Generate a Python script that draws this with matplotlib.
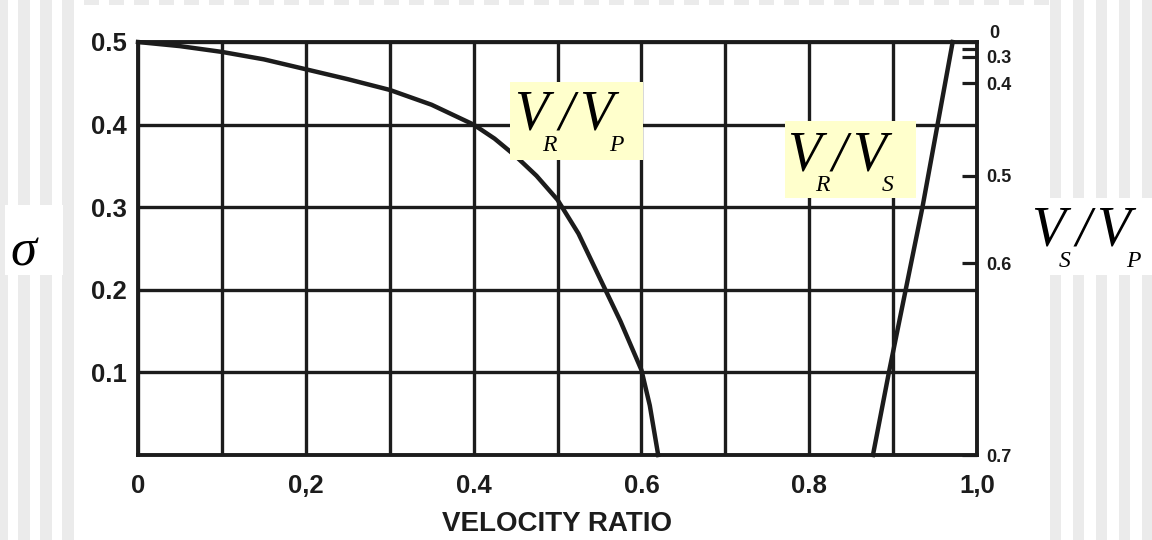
import numpy as np
import matplotlib
matplotlib.use('Agg')
import matplotlib.pyplot as plt
from matplotlib.patches import Rectangle

# Data (x = velocity ratio, y = Poisson's ratio sigma)
vr_vp_x = [0.0, 0.05, 0.1, 0.15, 0.2, 0.25, 0.3, 0.35, 0.4, 0.425, 0.45, 0.475,
           0.5, 0.525, 0.55, 0.575, 0.6, 0.61, 0.62]
vr_vp_sigma = [0.5, 0.495, 0.488, 0.479, 0.467, 0.455, 0.442, 0.424, 0.40, 0.383,
               0.362, 0.338, 0.309, 0.268, 0.215, 0.162, 0.103, 0.06, 0.0]

vr_vs_x = [0.876, 0.895, 0.915, 0.935, 0.953, 0.971]
vr_vs_sigma = [0.0, 0.1, 0.2, 0.3, 0.4, 0.5]

x_ticks = [0.0, 0.2, 0.4, 0.6, 0.8, 1.0]
x_tick_labels = ['0', '0,2', '0.4', '0.6', '0.8', '1,0']
y_ticks = [0.1, 0.2, 0.3, 0.4, 0.5]
y_tick_labels = ['0.1', '0.2', '0.3', '0.4', '0.5']

# right-hand Vs/Vp scale, placed against sigma
vs_vp_sigma = [0.482, 0.450, 0.338, 0.232, 0.0]
vs_vp_labels = ['0.3', '0.4', '0.5', '0.6', '0.7']

W, H = 1152, 540
ink = '#1c1c1c'
stripe = '#ebebeb'
note_yellow = '#ffffcc'

fig = plt.figure(figsize=(W / 100, H / 100), dpi=100, facecolor='white')


def px_rect(x0, y0, x1, y1, color, z=0):
    # rectangle given in pixel coords measured from the top-left corner
    fig.add_artist(Rectangle((x0 / W, 1 - y1 / H), (x1 - x0) / W, (y1 - y0) / H,
                             transform=fig.transFigure, facecolor=color,
                             edgecolor='none', zorder=z))


# slide background: pale vertical stripes at both sides, dashes along the top
for x in range(-4, 71, 22):
    px_rect(max(x, 0), 0, x + 12, H, stripe, z=-5)
for x in range(1050, W, 23):
    px_rect(x, 0, x + 11, H, stripe, z=-5)
for x in range(84, 1047, 25):
    px_rect(x, 0, x + 15, 5, stripe, z=-5)

ax = fig.add_axes([138 / W, 1 - 455 / H, (977 - 138) / W, (455 - 42) / H])
ax.set_xlim(0, 1)
ax.set_ylim(0, 0.5)

ax.set_xticks(x_ticks)
ax.set_xticklabels(x_tick_labels)
ax.set_xticks(np.arange(0.1, 1.0, 0.2), minor=True)
ax.set_yticks(y_ticks)
ax.set_yticklabels(y_tick_labels)
ax.grid(True, which='both', color=ink, linewidth=2.4)
ax.set_axisbelow(True)
ax.tick_params(which='both', length=0)
ax.tick_params(axis='x', pad=14)
ax.tick_params(axis='y', pad=8)
for lab in ax.get_xticklabels() + ax.get_yticklabels():
    lab.set_fontfamily('Liberation Sans')
    lab.set_fontweight('bold')
    lab.set_fontsize(18.5)
    lab.set_color(ink)
for sp in ax.spines.values():
    sp.set_linewidth(2.8)
    sp.set_color(ink)

ax.plot(vr_vp_x, vr_vp_sigma, color=ink, linewidth=3.2, clip_on=False, zorder=3,
        solid_joinstyle='round')
ax.plot(vr_vs_x, vr_vs_sigma, color=ink, linewidth=3.2, clip_on=False, zorder=3)

ax.set_xlabel('VELOCITY RATIO', fontfamily='Liberation Sans', fontweight='bold',
              fontsize=20, color=ink, labelpad=9)

# Vs/Vp scale on the right spine
ax2 = ax.twinx()
ax2.set_ylim(0, 0.5)
ax2.set_yticks(vs_vp_sigma)
ax2.set_yticklabels(vs_vp_labels)
ax2.set_yticks([0.492], minor=True)
ax2.tick_params(axis='y', which='both', direction='in', length=11, width=2.3,
                color=ink, pad=7)
for lab in ax2.get_yticklabels():
    lab.set_fontfamily('Liberation Sans')
    lab.set_fontweight('bold')
    lab.set_fontsize(13)
    lab.set_color(ink)
for sp in ax2.spines.values():
    sp.set_visible(False)
ax2.annotate('0', xy=(1.0, 0.5), xycoords=('axes fraction', 'data'),
             xytext=(9, 0), textcoords='offset points', va='bottom', ha='left',
             fontfamily='Liberation Sans', fontweight='bold', fontsize=13, color=ink)


def ratio_label(x0, base, sub1, sub2):
    # big italic V, small dropped subscript, slash, V, subscript
    big = dict(fontfamily='Liberation Serif', style='italic', fontsize=40,
               color='black', va='baseline', ha='left', zorder=10)
    small = dict(big, fontsize=17)
    fig.text((x0 - 3) / W, 1 - base / H, 'V', **big)
    fig.text((x0 + 25) / W, 1 - (base + 21) / H, sub1, **small)
    fig.text((x0 + 42) / W, 1 - base / H, '/', **big)
    fig.text((x0 + 62) / W, 1 - base / H, 'V', **big)
    fig.text((x0 + 92) / W, 1 - (base + 21) / H, sub2, **small)


px_rect(510, 82, 643, 160, note_yellow, z=5)
ratio_label(517, 130, 'R', 'P')

px_rect(785, 121, 916, 198, note_yellow, z=5)
ratio_label(790, 170, 'R', 'S')

px_rect(1022, 198, W, 275, 'white', z=5)
ratio_label(1034, 246, 'S', 'P')

px_rect(5, 205, 63, 275, 'white', z=5)
fig.text(10 / W, 1 - 265 / H, '\u03c3', fontfamily='Liberation Serif', style='italic',
         fontsize=38, color='black', va='baseline', ha='left', zorder=10)

fig.savefig('out.png', dpi=100)
